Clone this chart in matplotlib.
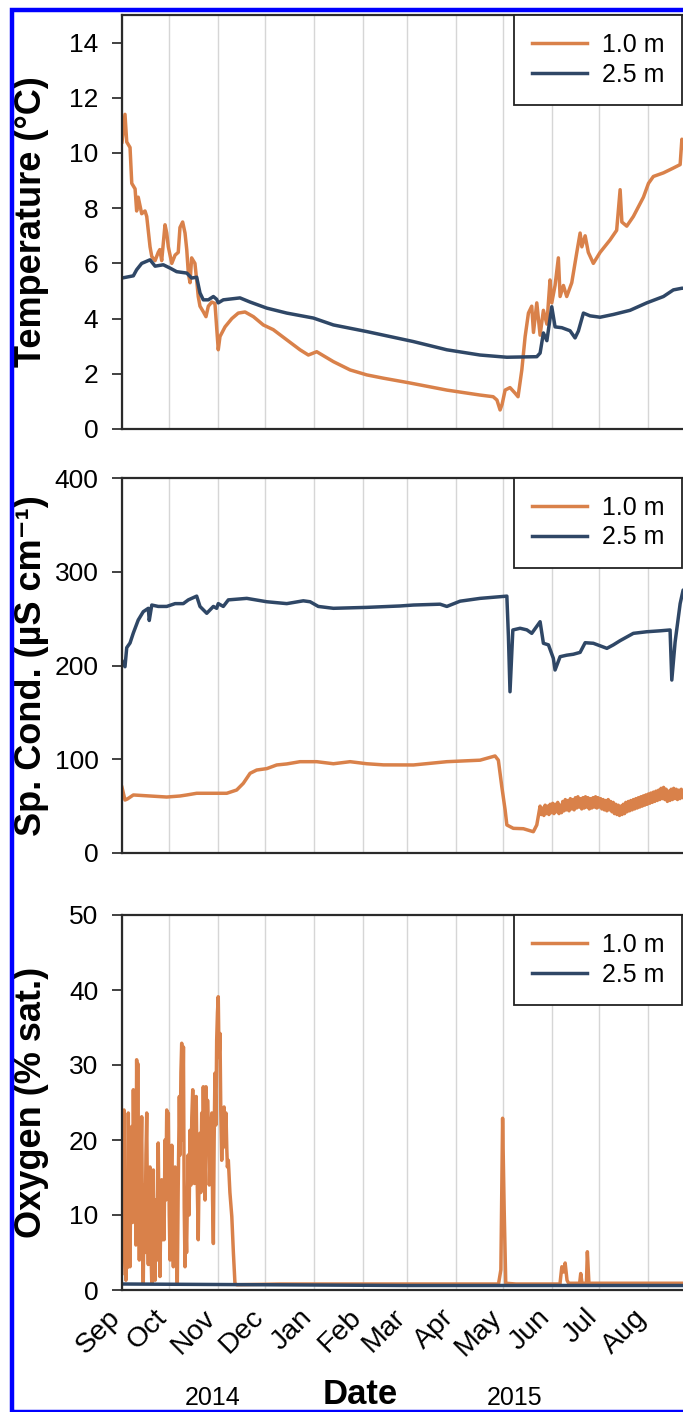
import matplotlib
matplotlib.use("Agg")
import matplotlib.pyplot as plt
import matplotlib.transforms as mtransforms
import pandas as pd
from matplotlib.patches import Rectangle

plt.rcParams["font.family"] = ["Liberation Sans", "DejaVu Sans"]

START = "2014-09-01"
END = "2015-09-01"
MONTH_LABELS = ["Sep", "Oct", "Nov", "Dec", "Jan", "Feb", "Mar", "Apr", "May", "Jun", "Jul", "Aug"]
YEAR_LABELS = ["2014", "2015"]
SERIES_LABELS = ["1.0 m", "2.5 m"]

# all x values are days since START

# temperature (deg C)
temp_1m_days = [0, 1.9, 3.0, 5.1, 6.2, 8.3, 9.3, 10.3, 12.5, 14.6, 15.7, 17.8, 18.9, 21.0, 23.0, 24.0,
                25.2, 27.3, 28.4, 29.4, 31.6, 33.7, 35.7, 36.8, 38.5, 40.0, 41.1, 42.1, 43.2, 44.2, 46.3,
                47.4, 48.4, 49.5, 51.6, 53.3, 54.8, 57.0, 59.0, 61.1, 62.2, 65.4, 69.7, 73.8, 78.1, 83.4,
                89.7, 96.0, 104.6, 113.0, 118.3, 123.6, 134.2, 144.8, 155.4, 166.0, 181.6, 206.2, 227.3,
                235.6, 238.0, 240.0, 241.3, 243.2, 246.3, 249.5, 251.4, 253.8, 255.9, 258.0, 260.1, 261.2,
                263.3, 265.4, 267.5, 269.7, 271.7, 272.8, 274.9, 277.0, 278.1, 280.2, 282.3, 285.5, 288.7,
                290.8, 291.9, 294.0, 296.0, 299.2, 303.5, 309.8, 314.0, 316.2, 317.3, 320.4, 324.6, 331.0,
                334.2, 337.3, 343.7, 349.8, 354.3, 355.4, 356.2, 364]
temp_1m = [10.4, 11.4, 10.4, 10.2, 8.9, 8.7, 7.9, 8.4, 7.8, 7.9, 7.7, 6.6, 6.25, 6.1, 6.4, 6.5,
           6.1, 7.4, 7.1, 6.6, 6.0, 6.3, 6.4, 7.3, 7.5, 7.1, 6.5, 5.65, 5.3, 6.2, 6.0,
           5.4, 4.8, 4.45, 4.25, 4.07, 4.45, 4.6, 4.55, 2.87, 3.35, 3.7, 4.0, 4.2, 4.24, 4.07,
           3.77, 3.6, 3.23, 2.87, 2.68, 2.8, 2.44, 2.14, 1.96, 1.84, 1.68, 1.41, 1.23,
           1.17, 1.05, 0.69, 0.9, 1.41, 1.5, 1.3, 1.17, 2.14, 3.35, 4.2, 4.45, 3.5,
           4.57, 3.4, 4.3, 3.8, 5.4, 4.57, 5.2, 6.2, 4.8, 5.2, 4.8, 5.3, 6.4,
           7.1, 6.6, 7.0, 6.4, 6.0, 6.4, 6.85, 7.2, 8.67, 7.5, 7.35, 7.7, 8.4,
           8.9, 9.15, 9.28, 9.45, 9.58, 10.5, 10.2, 10.3]

temp_25m_days = [0, 7.2, 9.3, 12.5, 17.8, 21.0, 26.2, 30.5, 34.7, 41.1, 44.2, 47.4, 49.5, 51.6, 54.8,
                 58.0, 60.1, 61.1, 64.3, 74.9, 81.3, 91.9, 104.6, 121.5, 134.2, 155.4, 184.8, 206.2,
                 227.3, 244.3, 263.3, 265.4, 267.5, 269.7, 272.8, 274.9, 279.2, 284.4, 287.6, 289.7,
                 292.9, 297.1, 303.5, 311.9, 322.5, 333.1, 343.7, 350.0, 355.4, 364]
temp_25m = [5.47, 5.55, 5.77, 6.0, 6.13, 5.9, 5.95, 5.83, 5.7, 5.65, 5.47, 5.5, 4.93, 4.68, 4.68,
            4.8, 4.7, 4.57, 4.68, 4.75, 4.6, 4.38, 4.2, 4.02, 3.77, 3.53, 3.17, 2.87,
            2.68, 2.6, 2.62, 2.75, 3.48, 3.2, 4.43, 3.7, 3.67, 3.56, 3.3, 3.55,
            4.2, 4.1, 4.05, 4.15, 4.3, 4.57, 4.8, 5.04, 5.1, 5.1]

# specific conductance (uS/cm)
cond_1m_days = [0, 1.9, 3.4, 7.2, 17.8, 28.4, 36.8, 41.1, 47.4, 58.0, 66.5, 72.8, 77.0, 81.3, 85.5,
                91.9, 98.2, 104.6, 113.0, 123.6, 134.2, 144.8, 155.4, 166.0, 176.5, 185.0, 206.2,
                227.3, 236.8, 238.9, 241.1, 243.2, 244.3, 248.4, 254.8, 261.1, 263.3,
                265.4, 266.2, 267.0, 267.8, 268.6, 269.4, 270.2, 271.0, 271.8, 272.6, 273.4, 274.2,
                275.0, 275.8, 276.6, 277.4, 278.2, 279.0, 279.8, 280.6, 281.4, 282.2, 283.0, 283.8,
                284.6, 285.4, 286.2, 287.0, 287.8, 288.6, 289.4, 290.2, 291.0, 291.8, 292.6, 293.4,
                294.2, 295.0, 295.8, 296.6, 297.4, 298.2, 299.0, 299.8, 300.6, 301.4, 302.2, 303.0,
                303.8, 304.6, 305.4, 306.2, 307.0, 307.8, 308.6, 309.4, 310.2, 311.0, 311.8, 312.6,
                313.4, 314.2, 315.0, 315.8, 316.6, 317.4, 318.2, 319.0, 319.8, 320.6, 321.4, 322.2,
                323.0, 323.8, 324.6, 325.4, 326.2, 327.0, 327.8, 328.6, 329.4, 330.2, 331.0, 331.8,
                332.6, 333.4, 334.2, 335.0, 335.8, 336.6, 337.4, 338.2, 339.0, 339.8, 340.6, 341.4,
                342.2, 343.0, 343.8, 344.6, 345.4, 346.2, 347.0, 347.8, 348.6, 349.4, 350.2, 351.0,
                351.8, 352.6, 353.4, 354.2, 355.0, 356.0, 364]
cond_1m = [70, 56.5, 57.6, 61.9, 60.8, 59.7, 60.8, 61.9, 63.7, 63.7, 63.7, 67.2, 74.3, 85, 88.5,
           90, 93.9, 95, 97.4, 97.4, 95.2, 97.4, 95.2, 94, 94, 93.9, 97.4,
           99, 103.5, 99, 70.7, 45.9, 29.9, 26.3, 25.9, 22.7, 29.9,
           50, 41, 48, 40, 51, 42, 50, 41, 52, 43, 53, 42,
           52, 44, 54, 42, 51, 43, 55, 45, 57, 46, 56, 45,
           58, 47, 57, 46, 59, 48, 60, 49, 58, 47, 59, 48,
           60, 49, 59, 47, 58, 48, 59, 49, 60, 48, 59, 49,
           58, 47, 57, 46, 56, 45, 57, 46, 55, 44, 54, 42,
           52, 41, 51, 40, 50, 41, 52, 42, 54, 44, 55, 45,
           56, 46, 57, 47, 58, 48, 59, 49, 60, 50, 61, 51,
           62, 52, 63, 53, 64, 54, 65, 55, 66, 56, 67, 57,
           69, 58, 70, 57, 68, 55, 66, 56, 68, 57, 69, 58,
           68, 57, 67, 58, 68, 59, 63]

cond_25m_days = [0, 1.9, 3.0, 5.1, 7.2, 10.3, 13.5, 16.7, 17.3, 18.9, 23.0, 28.4, 33.7, 38.9, 42.1,
                 47.4, 49.5, 53.8, 58.0, 60.1, 61.1, 64.3, 67.5, 79.2, 91.9, 104.6, 115.1, 119.4,
                 124.6, 134.2, 155.4, 176.5, 185.0, 201.9, 206.2, 214.6, 227.3, 244.3, 245.3, 246.3,
                 248.1, 252.7, 257.0, 260.1, 265.4, 267.5, 270.7, 273.8, 274.9, 278.1, 282.3, 286.5,
                 290.8, 294.0, 299.2, 307.8, 311.9, 316.2, 324.6, 333.1, 341.6, 347.9, 349.0, 351.1,
                 354.3, 356.2, 364]
cond_25m = [205, 198.7, 219, 224, 234.7, 248.5, 257.4, 261, 248, 264.5, 263, 263, 266, 266, 270,
            274, 263, 255.7, 263, 261, 266, 263, 270, 271.6, 268, 266, 269, 268,
            263, 261, 262, 263.5, 264.5, 265.4, 263, 268.6, 271.6, 274, 230.7, 172,
            237.9, 239.7, 238, 234.3, 246.7, 223.7, 222, 207.7, 195.2, 209.4, 211, 212,
            214, 224.3, 223.7, 218.3, 222, 226.5, 234.3, 236, 237, 237.9, 184.5, 225,
            266, 280.5, 280]

# dissolved oxygen (% saturation)
oxy_1m_days = [0, 0.6, 1.0, 1.3, 1.9, 2.5, 3.1, 3.5, 4.0, 4.5, 5.1, 5.6, 6.2, 6.7, 7.2, 7.8, 8.4, 8.8,
               9.3, 9.7, 10.0, 10.5, 11.0, 11.8, 12.5, 13.0, 13.5, 14.1, 14.6, 15.2, 15.7, 16.2, 16.7,
               17.2, 17.8, 18.3, 18.9, 19.4, 19.9, 20.4, 21.0, 21.6, 22.2, 23.0, 23.5, 24.1, 24.6,
               25.2, 25.7, 26.2, 26.7, 27.3, 27.8, 28.4, 28.9, 29.4, 30.0, 30.5, 31.0, 31.6, 32.1,
               32.6, 33.2, 33.7, 34.3, 35.1, 35.7, 36.4, 36.9, 37.4, 37.9, 38.4, 39.0, 39.5, 40.0,
               40.5, 41.0, 41.5, 42.0, 42.6, 43.2, 43.8, 44.3, 44.9, 45.5, 46.0, 46.6, 47.1, 47.7,
               48.4, 48.9, 49.5, 50.0, 50.6, 51.1, 51.6, 52.2, 52.7, 53.0, 53.3, 53.8, 54.3, 54.8,
               55.4, 55.9, 56.4, 57.0, 57.5, 58.0, 58.5, 59.0, 59.6, 60.1, 60.6, 61.1, 61.6, 62.2,
               62.7, 63.3, 63.8, 64.3, 64.8, 65.4, 66.0, 66.5, 66.9, 67.5, 68.5, 69.7, 70.7, 71.7,
               72.8, 100, 200, 239.0, 240.5, 241.6, 242.6, 243.6, 250, 278.0, 279.2, 280.3, 281.3,
               282.5, 283.5, 290.5, 291.2, 292.0, 294.8, 295.4, 296.4, 364]
oxy_1m = [2.2, 14, 5, 24, 8, 1.3, 12, 3, 23.6, 10, 3.1, 17, 21.8, 9, 26.7, 14, 22, 6,
          30.7, 20, 30.2, 12, 4, 15, 23.1, 8, 0.9, 14, 5, 18, 23.6, 9, 3.4,
          12, 16.4, 6, 0.9, 11, 16.0, 7, 1.3, 12, 4, 19.6, 9, 1.8, 10,
          14.7, 6.7, 12, 6.7, 20, 12, 24, 14, 23.6, 10, 4, 12, 19.3, 9,
          3.1, 11, 16.4, 6, 0.9, 14, 25.8, 18, 29, 32.9, 20, 32.4, 11, 3.1,
          9, 5, 12, 18, 10, 21.3, 14, 23, 26.7, 19, 14.2, 22, 25.8, 15,
          6.7, 15, 20.9, 13, 23.6, 16, 27.1, 18, 12, 21, 27.1, 19, 25.3, 22,
          14, 17.3, 21, 23.6, 12, 6.2, 20, 28.9, 22, 33.3, 37, 39.1, 31, 34.2,
          24, 17.3, 22, 19, 24.4, 20, 23.6, 19, 16.4, 17.3, 13, 9.8, 5, 0.9,
          0.7, 0.8, 0.8, 0.8, 2.7, 22.9, 10.7, 0.9, 0.8, 0.8, 3.1, 2.4, 3.6,
          1.3, 0.9, 0.9, 2.2, 0.9, 0.9, 5.1, 0.9, 0.9]

oxy_25m_days = [0, 90, 180, 270, 364]
oxy_25m = [0.8, 0.7, 0.6, 0.6, 0.6]

ORANGE = "#D9814A"
NAVY = "#2F4766"
W, H = 683, 1412


def to_dates(days):
    return pd.Timestamp(START) + pd.to_timedelta(days, unit="D")


def add_px_axes(fig, left, top, right, bottom):
    return fig.add_axes([left / W, 1 - bottom / H, (right - left) / W, (bottom - top) / H])


def style_panel(ax, ylim, yticks, ylabel):
    months = pd.date_range(START, END, freq="MS")
    ax.set_xlim(pd.Timestamp(START), pd.Timestamp(END))
    ax.set_xticks(months)
    ax.set_xticklabels([])
    ax.grid(axis="x", color="#D6D6D6", linewidth=1.0)
    ax.set_axisbelow(True)
    ax.set_ylim(*ylim)
    ax.set_yticks(yticks)
    ax.tick_params(axis="y", direction="out", length=7, width=1.3, color="#333333",
                   labelsize=19, pad=10)
    ax.tick_params(axis="x", length=0)
    for spine in ax.spines.values():
        spine.set_linewidth(1.6)
        spine.set_color("#2A2A2A")
    ax.set_ylabel(ylabel, fontsize=26, fontweight="bold")
    ax.yaxis.set_label_coords(-0.127, 0.5)
    leg = ax.legend(loc="upper right", bbox_to_anchor=(0.974, 1.0), borderaxespad=0,
                    fontsize=18, fancybox=False, framealpha=1, edgecolor="#222222",
                    borderpad=0.72, labelspacing=0.22, handlelength=2.2, handletextpad=0.6)
    leg.get_frame().set_linewidth(1.3)


def draw_pair(ax, days_a, vals_a, days_b, vals_b):
    ax.plot(to_dates(days_a), vals_a, color=ORANGE, linewidth=2.5, label=SERIES_LABELS[0])
    ax.plot(to_dates(days_b), vals_b, color=NAVY, linewidth=2.5, label=SERIES_LABELS[1])


fig = plt.figure(figsize=(W / 100, H / 100), dpi=100)

ax1 = add_px_axes(fig, 122, 15, 697, 429)
draw_pair(ax1, temp_1m_days, temp_1m, temp_25m_days, temp_25m)
style_panel(ax1, (0, 15), range(0, 15, 2), "Temperature (°C)")

ax2 = add_px_axes(fig, 122, 478, 697, 853)
draw_pair(ax2, cond_1m_days, cond_1m, cond_25m_days, cond_25m)
style_panel(ax2, (0, 400), range(0, 401, 100), "Sp. Cond. (µS cm⁻¹)")

ax3 = add_px_axes(fig, 122, 915, 697, 1290)
draw_pair(ax3, oxy_1m_days, oxy_1m, oxy_25m_days, oxy_25m)
style_panel(ax3, (0, 50), range(0, 51, 10), "Oxygen (% sat.)")

months = pd.date_range(START, END, freq="MS")
ax3.set_xticks(months[:-1])
ax3.set_xticklabels(MONTH_LABELS, rotation=45, ha="right", va="center",
                    rotation_mode="anchor", fontsize=20.5)
ax3.tick_params(axis="x", pad=17)
shift = mtransforms.ScaledTranslation(-6 / 100, 0, fig.dpi_scale_trans)
for lab in ax3.get_xticklabels():
    lab.set_transform(lab.get_transform() + shift)

fig.text(213 / W, 1 - 1398 / H, YEAR_LABELS[0], fontsize=18, ha="center", va="center")
fig.text(515 / W, 1 - 1398 / H, YEAR_LABELS[1], fontsize=18, ha="center", va="center")
fig.text(360 / W, 1 - 1394 / H, "Date", fontsize=25, fontweight="bold", ha="center", va="center")

# blue frame around the figure (right side is cut off in the original)
fig.patches.append(Rectangle((12 / W, 1 - 1411.5 / H), 700 / W, (1411.5 - 9.5) / H,
                             transform=fig.transFigure, fill=False,
                             edgecolor="#0000FF", linewidth=3.2))

fig.savefig("out.png", dpi=100)
